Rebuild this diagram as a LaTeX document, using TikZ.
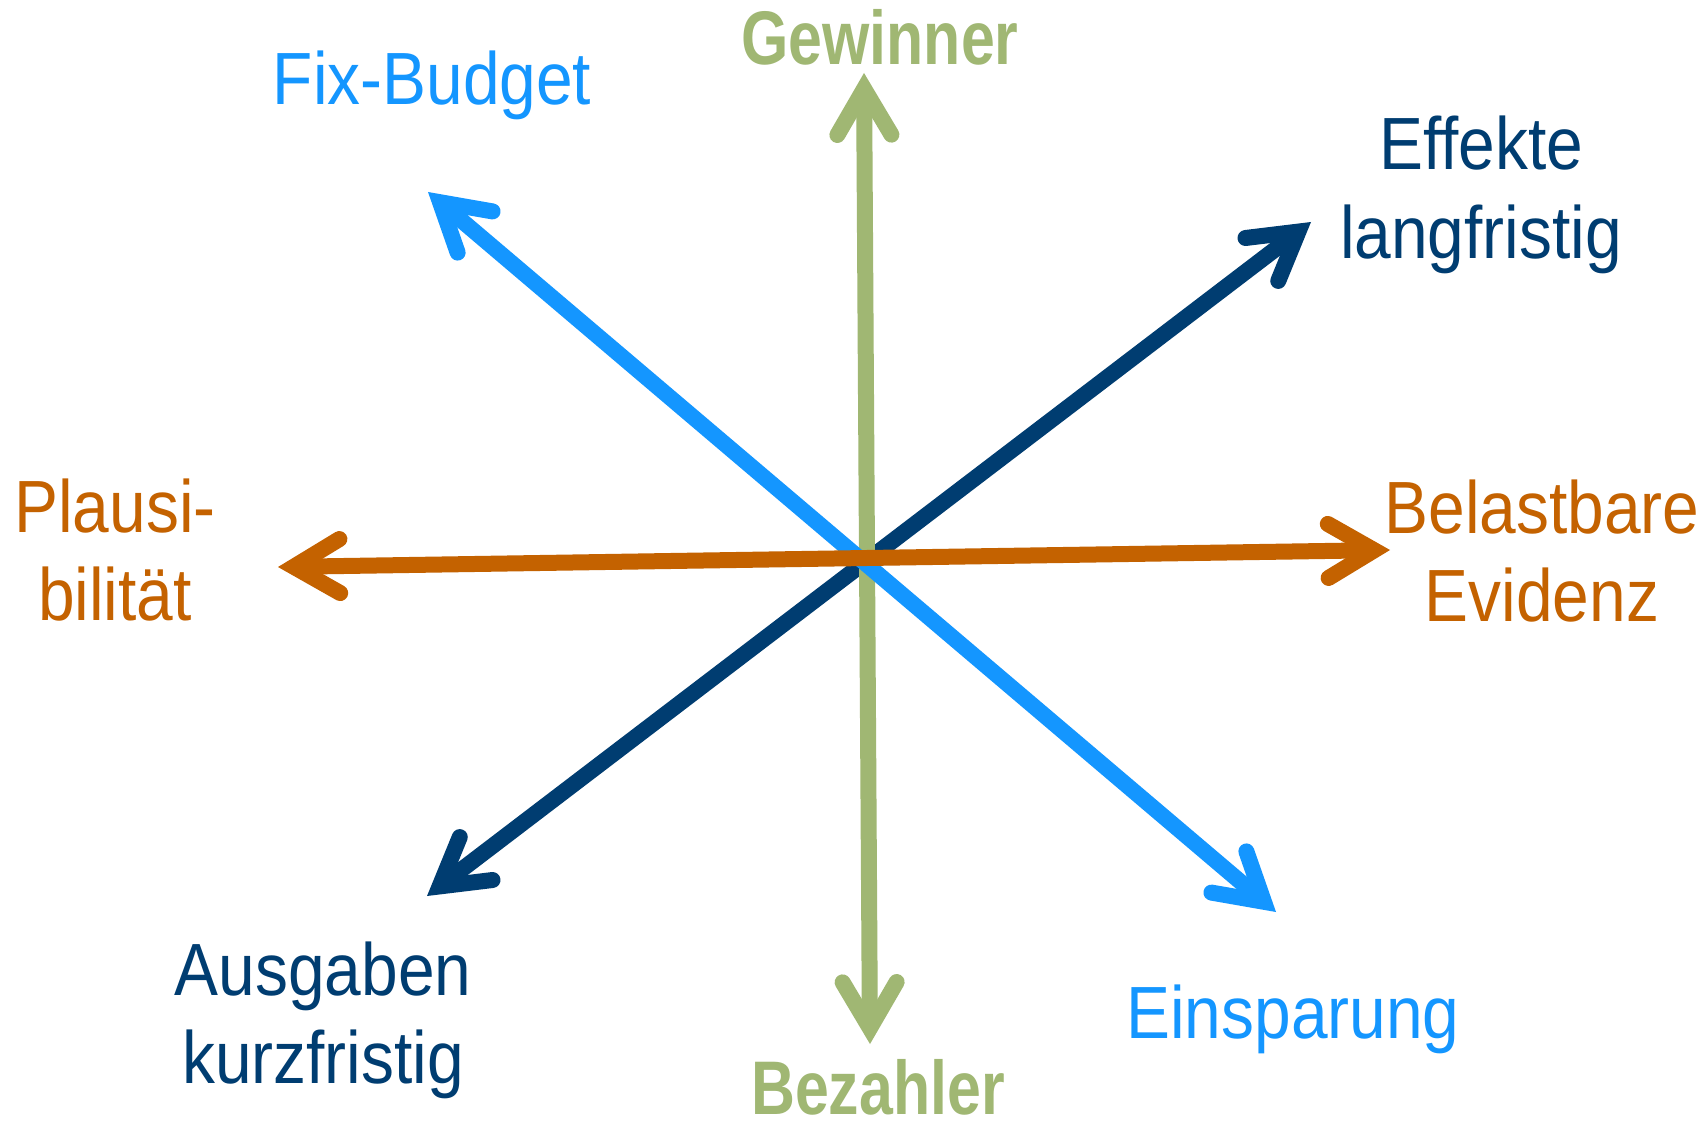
\documentclass[tikz,border=0pt]{standalone}
\usepackage{fontspec}
\setmainfont{Liberation Sans}
\newfontfamily\labfont[FakeStretch=0.89]{Liberation Sans}
\newfontfamily\boldlabfont[FakeStretch=0.8]{Liberation Sans}
\usetikzlibrary{arrows.meta}
\definecolor{cLB}{RGB}{20,150,255}
\definecolor{cNV}{RGB}{0,61,113}
\definecolor{cOR}{RGB}{196,98,0}
\definecolor{cGR}{RGB}{160,183,115}
\begin{document}
\begin{tikzpicture}[x=0.5pt,y=-0.5pt,
  barb/.tip={Straight Barb[length=23pt,width=27pt,line cap=round,line join=miter]},
  axis/.style={line width=8pt,barb-barb},
  lab/.style={font=\fontsize{37}{44}\selectfont\labfont,align=center,anchor=base,inner sep=0pt},
  boldlab/.style={font=\fontsize{38}{44}\selectfont\boldlabfont\bfseries,anchor=base,inner sep=0pt}]
\useasboundingbox[fill=white] (0,0) rectangle (1706,1123);
% axis end points
\coordinate (gT) at (864,73);
\coordinate (gB) at (870,1044);
\coordinate (oL) at (278,567);
\coordinate (oR) at (1390,550);
\coordinate (nTR) at (1311,222);
\coordinate (nBL) at (427,896);
\coordinate (bTL) at (428,192);
\coordinate (bBR) at (1276,912);
% axes
\draw[axis,cNV] (nBL) -- (nTR);
\draw[axis,cGR] (gB) -- (gT);
\draw[axis,cLB] (bBR) -- (bTL);
\draw[axis,cOR] (oL) -- (oR);
% labels (base anchor = baseline of the last line)
\node[boldlab,text=cGR] (gewinner) at (880,65) {Gewinner};
\node[boldlab,text=cGR] (bezahler) at (878,1114) {Bezahler};
\node[lab,text=cLB] (fix) at (432,105) {Fix-Budget};
\node[lab,text=cNV] (effekte) at (1481,258) {Effekte\\langfristig};
\node[lab,text=cOR] (plausi) at (115,620) {Plausi-\\bilität};
\node[lab,text=cOR] (belast) at (1542,621) {Belastbare\\Evidenz};
\node[lab,text=cNV] (ausgaben) at (323,1083) {Ausgaben\\kurzfristig};
\node[lab,text=cLB] (einsp) at (1293,1038) {Einsparung};
\end{tikzpicture}
\end{document}
